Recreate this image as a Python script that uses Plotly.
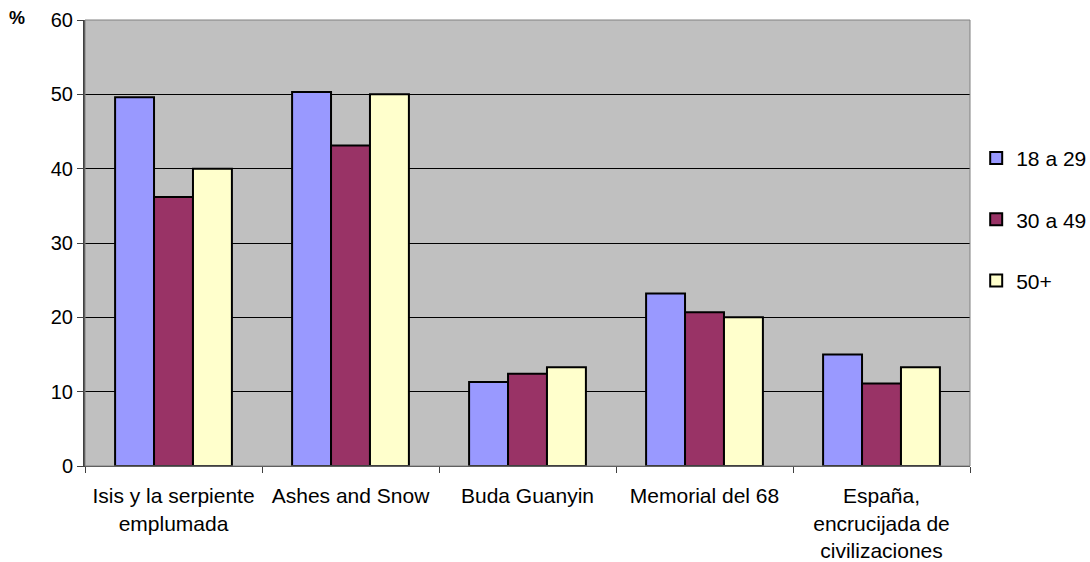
import plotly.graph_objects as go

categories = ["Isis y la serpiente<br>emplumada", "Ashes and Snow", "Buda Guanyin",
              "Memorial del 68", "España,<br>encrucijada de<br>civilizaciones"]
s_18_29 = [49.6, 50.3, 11.3, 23.2, 15.0]
s_30_49 = [36.2, 43.1, 12.4, 20.7, 11.1]
s_50 = [40.0, 50.0, 13.3, 20.0, 13.3]
series_names = ["18 a 29", "30 a 49", "50+"]
colors = ["#9999FF", "#993366", "#FFFFCC"]
y_ticks = [0, 10, 20, 30, 40, 50, 60]

fig = go.Figure()
for name, vals, col in zip(series_names, [s_18_29, s_30_49, s_50], colors):
    fig.add_trace(go.Bar(x=categories, y=vals, name=name, legendgroup=name,
                         marker=dict(color=col, line=dict(color="black", width=2))))

fig.update_layout(
    width=1090, height=562,
    margin=dict(l=85, r=120, t=20, b=96, autoexpand=False),
    paper_bgcolor="white", plot_bgcolor="#C0C0C0",
    barmode="group", bargap=0.34, bargroupgap=0,
    font=dict(family="Liberation Sans, Arial, sans-serif", size=21, color="black"),
    showlegend=True,
    legend=dict(x=1.007, y=0.553, xanchor="left", yanchor="middle",
                font=dict(size=21), traceorder="grouped", tracegroupgap=31,
                bgcolor="rgba(0,0,0,0)", itemwidth=30),
    xaxis=dict(showgrid=False, ticks="outside", tickson="boundaries", ticklen=6,
               tickcolor="#404040", showline=True, linecolor="#404040", linewidth=1,
               tickfont=dict(size=21), ticklabelstandoff=11, automargin=False),
    yaxis=dict(range=[0, 60], tickvals=y_ticks, showgrid=True, gridcolor="black",
               gridwidth=1, ticks="outside", ticklen=6, tickcolor="#404040",
               showline=True, linecolor="#404040", linewidth=2, zeroline=False,
               tickfont=dict(size=20), automargin=False),
    annotations=[dict(text="<b>%</b>", xref="paper", yref="paper", x=-0.066, y=1.005,
                      xanchor="right", yanchor="middle", showarrow=False,
                      font=dict(size=18))],
    shapes=[dict(type="rect", xref="paper", yref="paper", x0=0, y0=0, x1=1, y1=1,
                 line=dict(color="#808080", width=1))],
)

fig.write_html(
    "out.html",
    config={"displayModeBar": False},
    post_script="document.body.style.margin='0';document.body.style.overflow='hidden';",
)
